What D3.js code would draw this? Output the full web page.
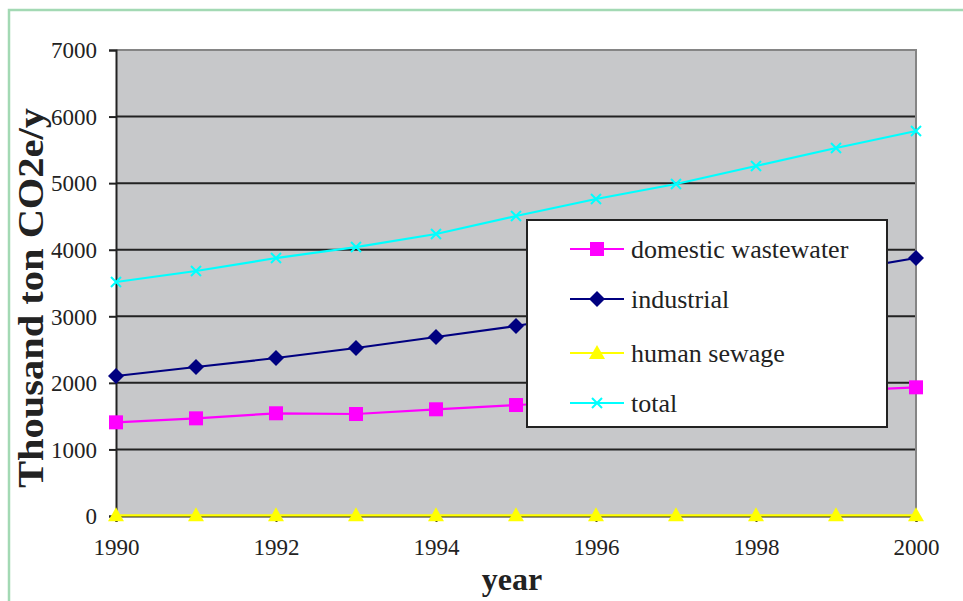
<!DOCTYPE html>
<html><head><meta charset="utf-8">
<script src="https://cdn.jsdelivr.net/npm/d3@7"></script>
<style>body{margin:0;background:#fff}svg{display:block}
.serif{font-family:"Liberation Serif","Times New Roman",serif;}
</style>
</head><body>
<svg id="c" width="963" height="601"></svg>
<script>
const years = [1990,1991,1992,1993,1994,1995,1996,1997,1998,1999,2000];
const domestic = [1407,1467,1543,1532,1603,1667,1720,1775,1830,1880,1933];
const industrial = [2103,2238,2373,2524,2689,2854,3060,3260,3460,3670,3876];
const humanSewage = [10,10,10,10,10,10,10,10,10,10,10];
const total = [3515,3680,3875,4040,4236,4506,4762,4987,5257,5528,5783];
const yTicks = [0,1000,2000,3000,4000,5000,6000,7000];
const xTicks = [1990,1992,1994,1996,1998,2000];
const seriesNames = ["domestic wastewater","industrial","human sewage","total"];

const series = [
  {name:seriesNames[0], values:domestic, color:"#ff00ff", marker:"square"},
  {name:seriesNames[1], values:industrial, color:"#000080", marker:"diamond"},
  {name:seriesNames[2], values:humanSewage, color:"#ffff00", marker:"triangle"},
  {name:seriesNames[3], values:total, color:"#00ffff", marker:"x"}
];

const svg = d3.select("#c");
const L=116, R=916, T=50, B=516;
const x = d3.scaleLinear().domain([1990,2000]).range([L,R]);
const y = d3.scaleLinear().domain([0,7000]).range([B,T]);

// frame
svg.append("path").attr("d","M9,601 V10 H963").attr("fill","none").attr("stroke","#a3d9b4").attr("stroke-width",2.5);

// plot area
svg.append("rect").attr("x",L).attr("y",T).attr("width",R-L).attr("height",B-T).attr("fill","#c7c8ca");
svg.append("g").selectAll("line").data(yTicks.filter(d=>d>0 && d<7000)).join("line")
  .attr("x1",L).attr("x2",R).attr("y1",d=>y(d)).attr("y2",d=>y(d))
  .attr("stroke","#222").attr("stroke-width",2);
svg.append("path").attr("d",`M${L},${T} H${R} V${B}`).attr("fill","none").attr("stroke","#858585").attr("stroke-width",2);

// y axis
const yAxis = d3.axisLeft(y).tickValues(yTicks).tickSize(7).tickPadding(12).tickFormat(d3.format("d"));
const gy = svg.append("g").attr("transform",`translate(${L},0)`).call(yAxis);
gy.attr("font-family",null).attr("font-size",null);
gy.select(".domain").attr("stroke","#222").attr("stroke-width",2);
gy.selectAll(".tick line").attr("stroke","#222").attr("stroke-width",2);
gy.selectAll("text").attr("class","serif").style("font-size","23px").attr("fill","#222").attr("dy","0.34em");

// x axis
const xAxis = d3.axisBottom(x).tickValues(xTicks).tickSize(6).tickPadding(17).tickFormat(d3.format("d"));
const gx = svg.append("g").attr("transform",`translate(0,${B})`).call(xAxis);
gx.attr("font-family",null).attr("font-size",null);
gx.select(".domain").attr("stroke","#222").attr("stroke-width",2);
gx.selectAll(".tick line").attr("stroke","#222").attr("stroke-width",2);
gx.selectAll("text").attr("class","serif").style("font-size","23px").attr("fill","#222");

function drawMarker(g, type, color, cx, cy){
  if(type==="square") g.append("rect").attr("x",cx-7).attr("y",cy-7).attr("width",14).attr("height",14).attr("fill",color);
  else if(type==="diamond") g.append("path").attr("d",`M${cx},${cy-8} L${cx+8},${cy} L${cx},${cy+8} L${cx-8},${cy} Z`).attr("fill",color);
  else if(type==="triangle") g.append("path").attr("d",`M${cx},${cy-8} L${cx+8},${cy+6} L${cx-8},${cy+6} Z`).attr("fill",color);
  else g.append("path").attr("d",`M${cx-5},${cy-5} L${cx+5},${cy+5} M${cx-5},${cy+5} L${cx+5},${cy-5}`).attr("stroke",color).attr("stroke-width",2).attr("fill","none");
}
const line = d3.line().x((d,i)=>x(years[i])).y(d=>y(d));
series.forEach(s=>{
  const g = svg.append("g");
  g.append("path").attr("d",line(s.values)).attr("fill","none").attr("stroke",s.color).attr("stroke-width",2.2);
  s.values.forEach((v,i)=>drawMarker(g,s.marker,s.color,x(years[i]),y(v)));
});

// legend
const lg = svg.append("g");
lg.append("rect").attr("x",527).attr("y",220).attr("width",360).attr("height",207).attr("fill","#fff").attr("stroke","#222").attr("stroke-width",2);
const rowY = [249,299,353,403];
series.forEach((s,i)=>{
  lg.append("line").attr("x1",570).attr("x2",624).attr("y1",rowY[i]).attr("y2",rowY[i]).attr("stroke",s.color).attr("stroke-width",2.2);
  drawMarker(lg,s.marker,s.color,597,rowY[i]);
  lg.append("text").attr("class","serif").attr("x",631).attr("y",rowY[i]).attr("dy","0.33em").style("font-size","26px").attr("fill","#222").text(s.name);
});

// axis titles
svg.append("text").attr("class","serif").attr("x",512).attr("y",590).attr("text-anchor","middle").style("font-weight","bold").style("font-size","32px").attr("fill","#222").text("year");
svg.append("text").attr("class","serif").attr("transform","translate(43,298) rotate(-90)").attr("text-anchor","middle").style("font-weight","bold").style("font-size","35px").attr("textLength",380).attr("lengthAdjust","spacingAndGlyphs").attr("fill","#222").text("Thousand ton CO2e/y");
</script>
</body></html>
